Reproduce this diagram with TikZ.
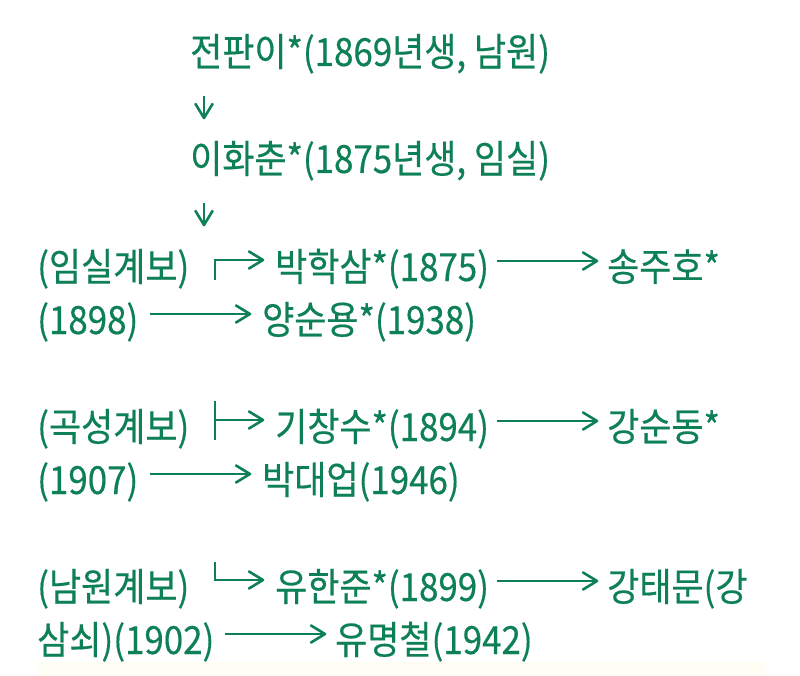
\documentclass[tikz,border=0pt]{standalone}
\usepackage{fontspec}
\setmainfont{Noto Sans CJK KR}[FakeStretch=0.9,FakeBold=0.4]
\definecolor{gr}{RGB}{14,128,86}
\newcommand\headR[1]{\draw[head] (#1) ++(-14,-8.5) -- (#1) -- ++(-14,8.5);}
\newcommand\headD[1]{\draw[head] (#1) ++(-8.5,-14) -- (#1) -- ++(8.5,-14);}
\begin{document}
\begin{tikzpicture}[x=1pt,y=-1pt,
  txt/.style={anchor=base west, inner sep=0pt, text=gr, font=\fontsize{38.8}{44}\selectfont},
  arr/.style={draw=gr, line width=2.4pt},
  head/.style={draw=gr, line width=2.6pt, line cap=round, line join=round},
  thin/.style={draw=gr, line width=1.3pt}]
\fill[white] (0,0) rectangle (800,676);
\fill[yellow!4] (37,662) rectangle (765,676);
% top chain
\node[txt] (a1) at (190,66) {전판이*(1869년생, 남원)};
\coordinate (d1s) at (204,96); \coordinate (d1e) at (204,118);
\draw[arr] (d1s) -- (d1e); \headD{d1e}
\node[txt] (a2) at (190,173) {이화춘*(1875년생, 임실)};
\coordinate (d2s) at (204,203); \coordinate (d2e) at (204,225);
\draw[arr] (d2s) -- (d2e); \headD{d2e}
% row 5-6
\node[txt] (g1) at (37,281) {(임실계보)};
\coordinate (c1b) at (215,280); \coordinate (c1m) at (232,260); \coordinate (c1e) at (263,260);
\draw[thin] (c1b) |- (c1m); \draw[arr] (c1m) -- (c1e); \headR{c1e}
\node[txt] (n11) at (275,281) {박학삼*(1875)};
\coordinate (l1a) at (497,261); \coordinate (l1b) at (565,261); \coordinate (l1c) at (597,261);
\draw[thin] (l1a) -- (l1b); \draw[arr] (l1b) -- (l1c); \headR{l1c}
\node[txt] (n12) at (607,281) {송주호*};
\node[txt] (n12b) at (37,334) {(1898)};
\coordinate (l2a) at (150,314); \coordinate (l2b) at (218,314); \coordinate (l2c) at (250,314);
\draw[thin] (l2a) -- (l2b); \draw[arr] (l2b) -- (l2c); \headR{l2c}
\node[txt] (n13) at (262,334) {양순용*(1938)};
% row 8-9
\node[txt] (g2) at (37,441) {(곡성계보)};
\coordinate (c2t) at (215,401); \coordinate (c2b) at (215,440); \coordinate (c2m) at (215,420);
\coordinate (c2j) at (232,420); \coordinate (c2e) at (263,420);
\draw[thin] (c2t) -- (c2b); \draw[thin] (c2m) -- (c2j); \draw[arr] (c2j) -- (c2e); \headR{c2e}
\node[txt] (n21) at (275,441) {기창수*(1894)};
\coordinate (l3a) at (497,421); \coordinate (l3b) at (565,421); \coordinate (l3c) at (597,421);
\draw[thin] (l3a) -- (l3b); \draw[arr] (l3b) -- (l3c); \headR{l3c}
\node[txt] (n22) at (607,441) {강순동*};
\node[txt] (n22b) at (37,494) {(1907)};
\coordinate (l4a) at (150,474); \coordinate (l4b) at (218,474); \coordinate (l4c) at (250,474);
\draw[thin] (l4a) -- (l4b); \draw[arr] (l4b) -- (l4c); \headR{l4c}
\node[txt] (n23) at (262,494) {박대업(1946)};
% row 11-12
\node[txt] (g3) at (37,601) {(남원계보)};
\coordinate (c3t) at (215,562); \coordinate (c3m) at (232,580); \coordinate (c3e) at (263,580);
\draw[thin] (c3t) |- (c3m); \draw[arr] (c3m) -- (c3e); \headR{c3e}
\node[txt] (n31) at (275,601) {유한준*(1899)};
\coordinate (l5a) at (497,581); \coordinate (l5b) at (565,581); \coordinate (l5c) at (597,581);
\draw[thin] (l5a) -- (l5b); \draw[arr] (l5b) -- (l5c); \headR{l5c}
\node[txt] (n32) at (607,601) {강태문(강};
\node[txt] (n32b) at (37,654) {삼쇠)(1902)};
\coordinate (l6a) at (225,634); \coordinate (l6b) at (293,634); \coordinate (l6c) at (325,634);
\draw[thin] (l6a) -- (l6b); \draw[arr] (l6b) -- (l6c); \headR{l6c}
\node[txt] (n33) at (335,654) {유명철(1942)};
\end{tikzpicture}
\end{document}
